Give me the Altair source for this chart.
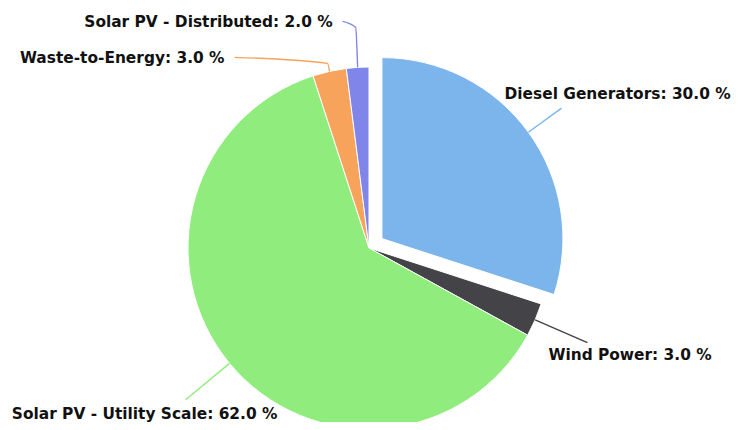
import math
import altair as alt
import pandas as pd

# ---- data -------------------------------------------------------------
categories = ["Diesel Generators", "Wind Power", "Solar PV - Utility Scale",
              "Waste-to-Energy", "Solar PV - Distributed"]
shares = [30.0, 3.0, 62.0, 3.0, 2.0]
colors = ["#7cb5ec", "#434348", "#90ed7d", "#f7a35c", "#8085e9"]
sliced = ["Diesel Generators"]

# ---- layout / style -----------------------------------------------------
W, H = 724, 414
CX, CY = 361, 240
R = 181
EXPLODE = 16
R_END = 238
FONT_SIZE = 15.4
label_layout = {
    "Diesel Generators": dict(mode="radial", dx=-57, dy=-14, align="left"),
    "Wind Power": dict(mode="radial", dx=-39, dy=12, align="left"),
    "Solar PV - Utility Scale": dict(mode="radial", dx=-41, dy=14, align="center"),
    "Waste-to-Energy": dict(mode="lifted", dx=-105, dy=-13, align="right"),
    "Solar PV - Distributed": dict(mode="lifted", dx=-25, dy=-45, align="right"),
}

total = sum(shares)

# derived tables
slice_rows, conn_rows, label_rows = [], [], []
cum = 0.0
for c, v in zip(categories, shares):
    start, end = cum, cum + v
    cum = end
    mid = (start + end) / 2 / total * 2 * math.pi
    s, co = math.sin(mid), math.cos(mid)
    off = EXPLODE if c in sliced else 0
    slice_rows.append(dict(category=c, start=start, end=end, share=v))
    p0 = (CX + (R + off) * s, CY - (R + off) * co)
    lay = label_layout[c]
    if lay["mode"] == "radial":
        p1 = (CX + R_END * s, CY - R_END * co)
        pts = [p0, p1]
        lx, ly = p1[0] + lay["dx"], p1[1] + lay["dy"]
    else:
        lx, ly = p0[0] + lay["dx"], p0[1] + lay["dy"]
        pts = [p0, (p0[0] - 2, ly + 5), (lx + 10, ly - 1)]
    for i, (x, y) in enumerate(pts):
        conn_rows.append(dict(category=c, seq=i, x=x, y=y))
    label_rows.append(dict(category=c, x=lx, y=ly, align=lay["align"],
                           label=f"{c}: {v:.1f} %"))

slices = pd.DataFrame(slice_rows)
conns = pd.DataFrame(conn_rows)
labels = pd.DataFrame(label_rows)

color_scale = alt.Scale(domain=categories, range=colors)

base = alt.Chart(slices).encode(
    theta=alt.Theta("start:Q", scale=alt.Scale(domain=[0, total], range=[0, 2 * math.pi])),
    theta2="end:Q",
    color=alt.Color("category:N", scale=color_scale, legend=None),
)

ex_idx = categories.index(sliced[0])
ex_mid = (sum(shares[:ex_idx]) + shares[ex_idx] / 2) / total * 2 * math.pi
ex_dx = EXPLODE * math.sin(ex_mid)
ex_dy = -EXPLODE * math.cos(ex_mid)

rest = base.transform_filter(
    alt.FieldOneOfPredicate(field="category", oneOf=[c for c in categories if c not in sliced])
).mark_arc(radius=R, x=CX, y=CY, stroke="white", strokeWidth=1)

exploded = base.transform_filter(
    alt.FieldOneOfPredicate(field="category", oneOf=sliced)
).mark_arc(radius=R, x=CX + ex_dx, y=CY + ex_dy, stroke="white", strokeWidth=1)

connectors = alt.Chart(conns).mark_line(strokeWidth=1.4, interpolate="monotone").encode(
    x=alt.X("x:Q", scale=None, axis=None),
    y=alt.Y("y:Q", scale=None, axis=None),
    color=alt.Color("category:N", scale=color_scale, legend=None),
    detail="category:N",
    order="seq:Q",
)

text_layers = []
for al in ["left", "right", "center"]:
    text_layers.append(
        alt.Chart(labels).transform_filter(alt.datum.align == al).mark_text(
            align=al, baseline="middle", font="DejaVu Sans", fontSize=FONT_SIZE,
            fontWeight="bold", color="#111111"
        ).encode(
            x=alt.X("x:Q", scale=None, axis=None),
            y=alt.Y("y:Q", scale=None, axis=None),
            text="label:N",
        )
    )

chart = alt.layer(rest, exploded, connectors, *text_layers).properties(
    width=W, height=H, padding=0, autosize=alt.AutoSizeParams(type="none")
).configure_view(stroke=None)

chart.save("out.html", embed_options={"renderer": "svg", "actions": False})
